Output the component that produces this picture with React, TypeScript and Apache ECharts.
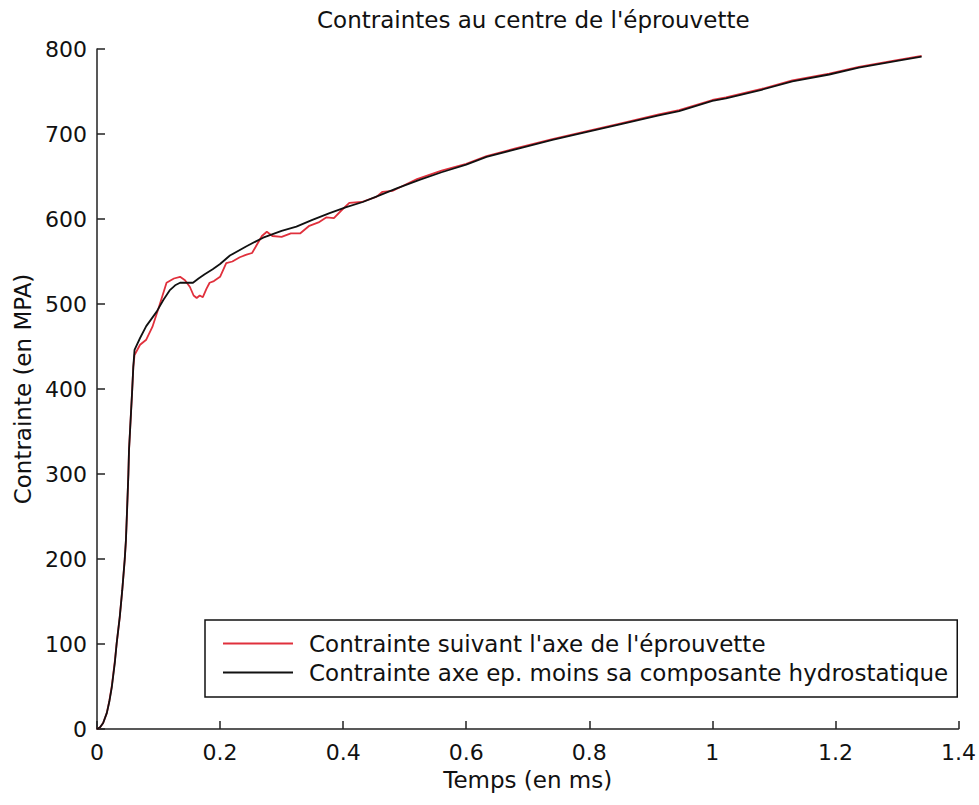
import React, { useEffect, useRef } from "react";
import * as echarts from "echarts";

const titleText = "Contraintes au centre de l'éprouvette";
const xName = "Temps (en ms)";
const yName = "Contrainte (en MPA)";
const redName = "Contrainte suivant l'axe de l'éprouvette";
const blackName = "Contrainte axe ep. moins sa composante hydrostatique";

const blackT = [0, 0.005, 0.01, 0.016, 0.02, 0.024, 0.029, 0.032, 0.037, 0.041, 0.045, 0.047, 0.049, 0.051, 0.052, 0.054, 0.057, 0.059, 0.061, 0.07, 0.08, 0.09, 0.097, 0.108, 0.118, 0.127, 0.135, 0.145, 0.156, 0.165, 0.175, 0.188, 0.2, 0.216, 0.243, 0.27, 0.3, 0.324, 0.35, 0.378, 0.405, 0.432, 0.46, 0.487, 0.524, 0.56, 0.6, 0.633, 0.68, 0.74, 0.8, 0.848, 0.913, 0.946, 1.0, 1.022, 1.08, 1.13, 1.19, 1.238, 1.3, 1.34];
const blackV = [0, 2, 7, 19, 32, 49, 78, 101, 132, 163, 199, 222, 260, 300, 328, 355, 396, 426, 446, 460, 474, 484, 491, 505, 516, 522, 525, 525, 525, 530, 535, 541, 547, 557, 568, 578, 586, 591, 599, 607, 614, 620, 628, 636, 646, 655, 664, 673, 682, 693, 703, 711, 722, 727, 739, 742, 752, 762, 770, 778, 786, 791];

const redT = [0, 0.005, 0.01, 0.016, 0.02, 0.024, 0.029, 0.032, 0.037, 0.041, 0.045, 0.047, 0.049, 0.051, 0.052, 0.054, 0.057, 0.059, 0.061, 0.07, 0.08, 0.09, 0.1, 0.113, 0.125, 0.135, 0.143, 0.151, 0.157, 0.162, 0.167, 0.172, 0.178, 0.183, 0.19, 0.2, 0.21, 0.22, 0.232, 0.243, 0.252, 0.26, 0.268, 0.276, 0.285, 0.3, 0.315, 0.33, 0.345, 0.36, 0.373, 0.385, 0.397, 0.41, 0.43, 0.454, 0.464, 0.48, 0.5, 0.52, 0.56, 0.6, 0.633, 0.68, 0.74, 0.8, 0.848, 0.913, 0.946, 1.0, 1.022, 1.08, 1.13, 1.19, 1.238, 1.3, 1.34];
const redV = [0, 2, 7, 19, 33, 50, 80, 101, 132, 163, 199, 222, 260, 300, 328, 355, 396, 426, 440, 452, 458, 473, 495, 525, 530, 532, 528, 520, 510, 507, 510, 508, 518, 525, 527, 532, 548, 550, 555, 558, 560, 570, 580, 585, 580, 579, 583, 583, 592, 596, 602, 601, 610, 619, 620, 626, 632, 633, 640, 647, 657, 665, 674, 683, 694, 704, 712, 723, 728, 740, 743, 753, 763, 771, 779, 787, 792];

const xTicks = [0, 0.2, 0.4, 0.6, 0.8, 1, 1.2, 1.4];
const yTicks = [0, 100, 200, 300, 400, 500, 600, 700, 800];

const FONT = "DejaVu Sans";

export default function App() {
  const ref = useRef<HTMLDivElement>(null);
  useEffect(() => {
    if (!ref.current) return;
    const chart = echarts.init(ref.current, undefined, { renderer: "svg" });
    const zip = (a: number[], b: number[]) => a.map((t, i) => [t, b[i]]);
    chart.setOption({
      animation: false,
      backgroundColor: "#ffffff",
      title: {
        text: titleText,
        left: 317,
        top: 8,
        padding: 0,
        textStyle: { fontFamily: FONT, fontSize: 23, fontWeight: "normal", color: "#111" },
      },
      grid: { left: 97, right: 19, top: 49, bottom: 76, containLabel: false },
      legend: {
        left: 205,
        top: 620,
        orient: "vertical",
        backgroundColor: "#ffffff",
        borderColor: "#111",
        borderWidth: 1.5,
        borderRadius: 0,
        padding: [12, 9, 13, 18],
        itemGap: 6,
        itemWidth: 70,
        itemHeight: 2,
        icon: "rect",
        textStyle: { fontFamily: FONT, fontSize: 23, color: "#111", padding: [0, 0, 0, 11] },
        data: [redName, blackName],
      },
      xAxis: {
        type: "value",
        min: 0,
        max: 1.4,
        interval: 0.2,
        name: xName,
        nameLocation: "middle",
        nameGap: 39,
        nameTextStyle: { fontFamily: FONT, fontSize: 23, color: "#111" },
        axisLine: { lineStyle: { color: "#222", width: 1.5 } },
        axisTick: { inside: true, length: 8, lineStyle: { color: "#222", width: 1.5 } },
        axisLabel: {
          fontFamily: FONT,
          fontSize: 22,
          color: "#111",
          margin: 12,
          formatter: (v: number) => String(+v.toFixed(1)),
        },
        splitLine: { show: false },
      },
      yAxis: {
        type: "value",
        min: 0,
        max: 800,
        interval: 100,
        name: yName,
        nameLocation: "middle",
        nameGap: 62,
        nameTextStyle: { fontFamily: FONT, fontSize: 23, color: "#111" },
        axisLine: { show: true, lineStyle: { color: "#222", width: 1.5 } },
        axisTick: { show: true, inside: true, length: 8, lineStyle: { color: "#222", width: 1.5 } },
        axisLabel: { fontFamily: FONT, fontSize: 22, color: "#111", margin: 10 },
        splitLine: { show: false },
      },
      series: [
        {
          name: redName,
          type: "line",
          data: zip(redT, redV),
          symbol: "none",
          lineStyle: { color: "#e0303c", width: 1.8 },
          itemStyle: { color: "#e0303c" },
        },
        {
          name: blackName,
          type: "line",
          data: zip(blackT, blackV),
          symbol: "none",
          lineStyle: { color: "#111111", width: 1.8 },
          itemStyle: { color: "#111111" },
        },
      ],
    });
    return () => chart.dispose();
  }, []);
  return <div ref={ref} style={{ width: 979, height: 805, position: "absolute", left: 0, top: 0 }} />;
}
